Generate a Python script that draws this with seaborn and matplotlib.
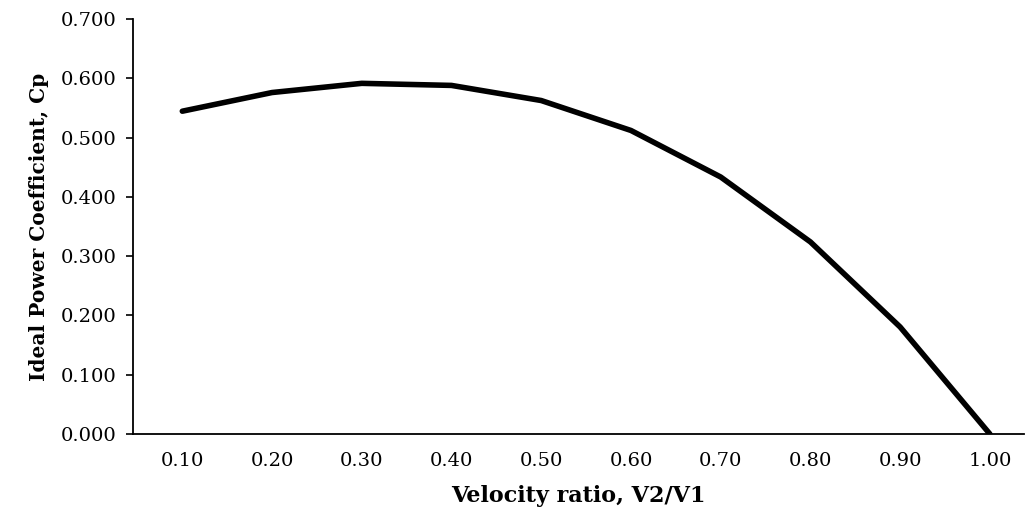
import matplotlib
matplotlib.use("Agg")
import matplotlib.pyplot as plt
import seaborn as sns
import pandas as pd

# Velocity ratio categories and ideal power coefficient
ratios = ["0.10", "0.20", "0.30", "0.40", "0.50", "0.60", "0.70", "0.80", "0.90", "1.00"]
cp_values = [0.5445, 0.576, 0.5915, 0.588, 0.5625, 0.512, 0.4335, 0.324, 0.1805, 0.0]

data = pd.DataFrame({"ratio": ratios, "cp": cp_values})

sns.set_style("ticks")
plt.rcParams['font.family'] = ['DejaVu Serif']
plt.rcParams['text.color'] = 'black'
plt.rcParams['axes.labelcolor'] = 'black'
plt.rcParams['xtick.color'] = 'black'
plt.rcParams['ytick.color'] = 'black'

fig = plt.figure(figsize=(10.26, 5.24), dpi=100)
ax = fig.add_axes([0.1296, 0.1718, 0.8684, 0.7919])

sns.lineplot(x="ratio", y="cp", data=data, sort=False, color="black", linewidth=4, ax=ax)

ax.set_xlim(-0.55, 9.38)
ax.set_ylim(0, 0.7)
ax.set_yticks([i / 10 for i in range(8)])
ax.set_yticklabels([f"{i / 10:.3f}" for i in range(8)], fontsize=14)
ax.set_xticks(range(len(ratios)))
ax.set_xticklabels(ratios, fontsize=14)
ax.tick_params(axis="x", length=0, pad=13)
ax.tick_params(axis="y", length=5, width=1.2, direction="out", pad=7)

ax.set_xlabel("Velocity ratio, V2/V1", fontsize=16, fontweight="bold", labelpad=11)
ax.set_ylabel("Ideal Power Coefficient, Cp", fontsize=14.5, fontweight="bold", labelpad=8)

sns.despine(ax=ax)
for side in ["left", "bottom"]:
    ax.spines[side].set_linewidth(1.3)
    ax.spines[side].set_color("black")

fig.savefig("out.png", dpi=100)
